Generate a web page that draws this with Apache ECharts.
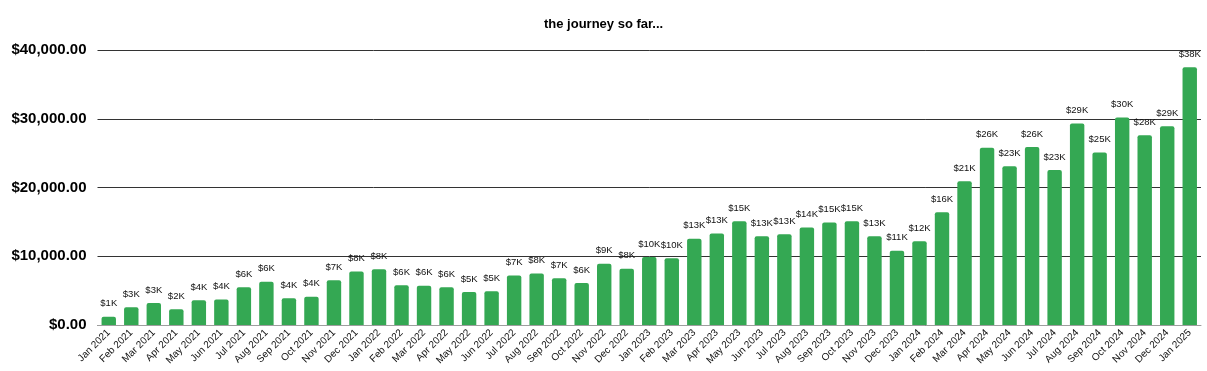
<!DOCTYPE html>
<html>
<head>
<meta charset="utf-8">
<script src="https://cdn.jsdelivr.net/npm/echarts@6/dist/echarts.min.js"></script>
<style>
html,body{margin:0;padding:0;background:#fff;}
#c{width:1207px;height:371px;}
</style>
</head>
<body>
<div id="c"></div>
<script>
const categories = [
  "Jan 2021","Feb 2021","Mar 2021","Apr 2021","May 2021","Jun 2021","Jul 2021","Aug 2021","Sep 2021","Oct 2021","Nov 2021","Dec 2021",
  "Jan 2022","Feb 2022","Mar 2022","Apr 2022","May 2022","Jun 2022","Jul 2022","Aug 2022","Sep 2022","Oct 2022","Nov 2022","Dec 2022",
  "Jan 2023","Feb 2023","Mar 2023","Apr 2023","May 2023","Jun 2023","Jul 2023","Aug 2023","Sep 2023","Oct 2023","Nov 2023","Dec 2023",
  "Jan 2024","Feb 2024","Mar 2024","Apr 2024","May 2024","Jun 2024","Jul 2024","Aug 2024","Sep 2024","Oct 2024","Nov 2024","Dec 2024",
  "Jan 2025"
];
const values = [
  1200, 2600, 3200, 2300, 3600, 3700, 5500, 6300, 3900, 4100, 6500, 7800,
  8100, 5800, 5700, 5500, 4800, 4900, 7200, 7500, 6800, 6100, 8900, 8200,
  9900, 9700, 12550, 13300, 15100, 12900, 13200, 14200, 14900, 15100, 12900, 10800,
  12200, 16400, 20900, 25800, 23100, 25900, 22550, 29300, 25100, 30200, 27600, 28900,
  37500
];
const yTicks = { min: 0, max: 40000, interval: 10000 };
const title = "the journey so far...";

const chart = echarts.init(document.getElementById('c'), null, {renderer: 'canvas'});
chart.setOption({
  animation: false,
  backgroundColor: '#ffffff',
  title: {
    text: title,
    left: 539,
    top: 13,
    textStyle: { fontFamily: 'Liberation Sans, Arial, sans-serif', fontSize: 13, fontWeight: 'bold', color: '#000' }
  },
  grid: { left: 97.5, right: 6, top: 50, bottom: 46, containLabel: false },
  xAxis: {
    type: 'category',
    data: categories,
    axisLine: { show: true, lineStyle: { color: '#9e9e9e', width: 1 } },
    axisTick: { show: false },
    axisLabel: {
      interval: 0,
      rotate: 45,
      margin: 6,
      fontFamily: 'Liberation Sans, Arial, sans-serif',
      fontSize: 10,
      color: '#111'
    }
  },
  yAxis: {
    type: 'value',
    min: yTicks.min,
    max: yTicks.max,
    interval: yTicks.interval,
    axisLine: { show: false },
    axisTick: { show: false },
    splitLine: { lineStyle: { color: '#333', width: 1 } },
    axisLabel: {
      margin: 11,
      fontFamily: 'Liberation Sans, Arial, sans-serif',
      fontSize: 15,
      fontWeight: 'bold',
      color: '#000',
      formatter: v => '$' + v.toLocaleString('en-US', {minimumFractionDigits: 2, maximumFractionDigits: 2})
    }
  },
  series: [{
    type: 'bar',
    data: values,
    barCategoryGap: '36%',
    itemStyle: { color: '#34a853', borderRadius: [2, 2, 0, 0] },
    label: {
      show: true,
      position: 'top',
      distance: 8,
      fontFamily: 'Liberation Sans, Arial, sans-serif',
      fontSize: 9.5,
      color: '#111',
      formatter: p => '$' + Math.round(p.value / 1000) + 'K'
    }
  }]
});
</script>
</body>
</html>
